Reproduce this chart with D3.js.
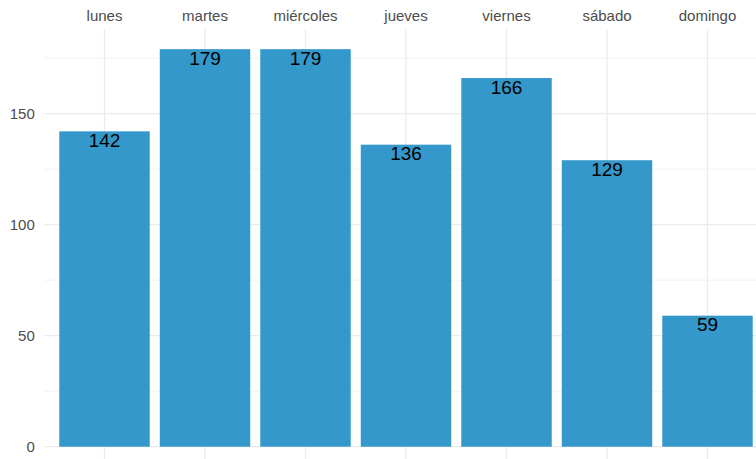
<!DOCTYPE html>
<html>
<head>
<meta charset="utf-8">
<script src="https://cdn.jsdelivr.net/npm/d3@7"></script>
<style>
  html, body { margin: 0; padding: 0; background: #fff; }
  svg { display: block; }
</style>
</head>
<body>
<svg id="chart" width="756" height="459"></svg>
<script>
const categories = ["lunes", "martes", "miércoles", "jueves", "viernes", "sábado", "domingo"];
const values = [142, 179, 179, 136, 166, 129, 59];
const yTicks = [0, 50, 100, 150];
const yMinorTicks = [25, 75, 125, 175];

const svg = d3.select("#chart");
const W = 756, H = 459;

const maxV = d3.max(values);
const pad = maxV * 0.05;
const y = d3.scaleLinear().domain([-pad, maxV + pad]).range([466.6, 29.3]);
const x = d3.scaleBand().domain(categories).range([44.2, 767.8])
  .paddingInner(0.1).paddingOuter(0.15);

const grid = svg.append("g");
grid.selectAll("line.minor").data(yMinorTicks).join("line")
  .attr("x1", 44.2).attr("x2", W)
  .attr("y1", d => y(d)).attr("y2", d => y(d))
  .attr("stroke", "#f0f0f0").attr("stroke-width", 0.9);
grid.selectAll("line.major").data(yTicks).join("line")
  .attr("x1", 44.2).attr("x2", W)
  .attr("y1", d => y(d)).attr("y2", d => y(d))
  .attr("stroke", "#ebebeb").attr("stroke-width", 1.3);
grid.selectAll("line.vert").data(categories).join("line")
  .attr("x1", d => x(d) + x.bandwidth() / 2).attr("x2", d => x(d) + x.bandwidth() / 2)
  .attr("y1", 29.3).attr("y2", H)
  .attr("stroke", "#ebebeb").attr("stroke-width", 1.3);

svg.append("g").selectAll("rect").data(categories).join("rect")
  .attr("x", d => x(d))
  .attr("width", x.bandwidth())
  .attr("y", (d, i) => y(values[i]))
  .attr("height", (d, i) => y(0) - y(values[i]))
  .attr("fill", "#3498cb");

svg.append("g").selectAll("text").data(categories).join("text")
  .attr("x", d => x(d) + x.bandwidth() / 2)
  .attr("y", (d, i) => y(values[i]) + 15.8)
  .attr("text-anchor", "middle")
  .attr("font-family", "Liberation Sans, Arial, sans-serif")
  .attr("font-size", "19px")
  .attr("fill", "#000")
  .text((d, i) => values[i]);

const xAxis = d3.axisTop(x).tickSize(0).tickPadding(0);
const gx = svg.append("g").attr("transform", "translate(0,20.5)").call(xAxis);
gx.select(".domain").remove();
gx.selectAll("text")
  .attr("font-family", "Liberation Sans, Arial, sans-serif")
  .attr("font-size", "15px")
  .attr("fill", "#4d4d4d")
  .attr("dy", 0);

const yAxis = d3.axisLeft(y).tickValues(yTicks).tickSize(0).tickPadding(0);
const gy = svg.append("g").attr("transform", "translate(34.8,0)").call(yAxis);
gy.select(".domain").remove();
gy.selectAll("text")
  .attr("font-family", "Liberation Sans, Arial, sans-serif")
  .attr("font-size", "15px")
  .attr("fill", "#4d4d4d");
</script>
</body>
</html>
